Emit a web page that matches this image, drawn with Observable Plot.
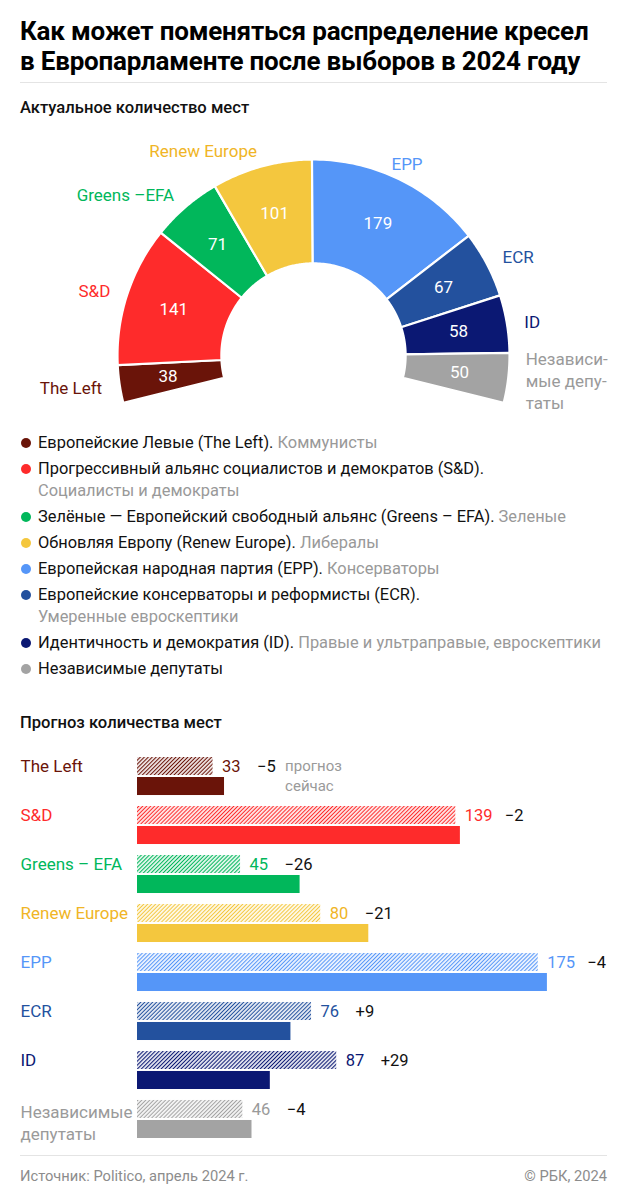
<!DOCTYPE html>
<html><head><meta charset="utf-8">
<script src="https://cdn.jsdelivr.net/npm/d3@7"></script>
<script src="https://cdn.jsdelivr.net/npm/@observablehq/plot@0.6"></script>
<style>
html,body{margin:0;padding:0;background:#fff;}
body{width:627px;height:1200px;position:relative;font-family:Roboto,"Noto Sans",sans-serif;color:#111;overflow:hidden;}
h1{position:absolute;left:20px;top:16px;margin:0;font-size:26px;line-height:30px;font-weight:700;letter-spacing:-0.2px;color:#000;}
.rule{position:absolute;left:20px;width:587px;height:1px;background:#e4e4e4;}
.sub{position:absolute;left:20px;font-size:16.6px;line-height:22px;font-weight:500;color:#111;}
#hemi{position:absolute;left:0;top:125px;}
#legend{position:absolute;left:20px;top:432px;width:605px;font-size:16.4px;line-height:22px;}
.item{position:relative;padding-left:18px;margin-bottom:4px;white-space:nowrap;}
.dot{position:absolute;left:1px;top:6px;width:10px;height:10px;border-radius:50%;}
.note{color:#999;}
#bars{position:absolute;left:0;top:745px;}
.foot{position:absolute;top:1165px;font-size:14.7px;line-height:22px;color:#8c8c8c;}
</style></head>
<body>
<h1>Как может поменяться распределение кресел<br>в Европарламенте после выборов в 2024 году</h1>
<div class="rule" style="top:82px"></div>
<div class="sub" style="top:97px">Актуальное количество мест</div>
<div id="hemi"></div>
<div id="legend"></div>
<div class="sub" style="top:712px">Прогноз количества мест</div>
<div id="bars"></div>
<div class="rule" style="top:1155px"></div>
<div class="foot" style="left:20px">Источник: Politico, апрель 2024 г.</div>
<div class="foot" style="right:20px">© РБК, 2024</div>
<script>
// ---- data ----
const keys = ["left","sd","greens","renew","epp","ecr","id","ind"];
const hemiLabels = ["The Left","S&D","Greens –EFA","Renew Europe","EPP","ECR","ID","Независи-\nмые депу-\nтаты"];
const barLabels = ["The Left","S&D","Greens – EFA","Renew Europe","EPP","ECR","ID","Независимые\nдепутаты"];
const currentSeats = [38,141,71,101,179,67,58,50];
const forecastSeats = [33,139,45,80,175,76,87,46];
const changeLabels = ["−5","−2","−26","−21","−4","+9","+29","−4"];
const colors = ["#6a1409","#fe2b2b","#01b75b","#f4c73e","#5596f8","#23519e","#0b1873","#a3a3a3"];
const labelColors = ["#6a1409","#fe2b2b","#01b75b","#f0b526","#5596f8","#23519e","#0b1873","#9a9a9a"];
const legendNames = [
  "Европейские Левые (The Left).",
  "Прогрессивный альянс социалистов и демократов (S&D).",
  "Зелёные — Европейский свободный альянс (Greens – EFA).",
  "Обновляя Европу (Renew Europe).",
  "Европейская народная партия (EPP).",
  "Европейские консерваторы и реформисты (ECR).",
  "Идентичность и демократия (ID).",
  "Независимые депутаты"
];
const legendNotes = ["Коммунисты","Социалисты и демократы","Зеленые","Либералы","Консерваторы","Умеренные евроскептики","Правые и ультраправые, евроскептики",""];
const legendBreak = [false,true,false,false,false,true,false,false];

// ---- hatch patterns ----
const defs = d3.select("body").append("svg").attr("width",0).attr("height",0)
  .style("position","absolute").append("defs");
keys.forEach((k,i)=>{
  const p = defs.append("pattern").attr("id","hatch-"+k).attr("patternUnits","userSpaceOnUse")
    .attr("width",2.8).attr("height",2.8).attr("patternTransform","rotate(45)");
  p.append("rect").attr("width",2.8).attr("height",2.8).attr("fill","#fff");
  p.append("line").attr("x1",1.4).attr("y1",0).attr("x2",1.4).attr("y2",2.8)
    .attr("stroke",colors[i]).attr("stroke-width",1.2);
});

// ---- hemicycle ----
const total = d3.sum(currentSeats);
const startA = -104, endA = 104, rIn = 0.47, rOut = 1, unit = 196;
const ang = d3.scaleLinear().domain([0,total]).range([startA,endA]);
const rad = a => a*Math.PI/180;
let cum = 0;
const segs = keys.map((k,i)=>{
  const s = ang(cum), e = ang(cum+currentSeats[i]);
  cum += currentSeats[i];
  const pts = [];
  const n = 48;
  for (let j=0;j<=n;j++){const t=rad(s+(e-s)*j/n); pts.push({x:rOut*Math.sin(t), y:rOut*Math.cos(t)});}
  for (let j=n;j>=0;j--){const t=rad(s+(e-s)*j/n); pts.push({x:rIn*Math.sin(t), y:rIn*Math.cos(t)});}
  pts.push(pts[0]);
  const m = (s+e)/2, rm = 0.75, rl = 1.09;
  return {k, i, pts, mid:m,
    vx: rm*Math.sin(rad(m)), vy: rm*Math.cos(rad(m)),
    lx: rl*Math.sin(rad(m)), ly: rl*Math.cos(rad(m)),
    value: currentSeats[i], label: hemiLabels[i], color: colors[i], lcolor: labelColors[i],
    anchor: m < -10 ? "end" : (m > 30 ? "start" : "middle")};
});
const W = 627, H = 300, cx = 313, cy = 230;
const hemi = Plot.plot({
  width: W, height: H, margin: 0,
  x: {domain: [-cx/unit, (W-cx)/unit], axis: null},
  y: {domain: [-(H-cy)/unit, cy/unit], axis: null},
  color: {type: "identity"},
  style: {fontFamily: "Roboto, 'Noto Sans', sans-serif", overflow: "visible"},
  marks: [
    ...segs.map(s => Plot.line(s.pts, {x:"x", y:"y", fill: s.color, stroke:"#fff", strokeWidth:2.2, curve:"linear"})),
    Plot.text(segs, {x:"vx", y:"vy", text: d=>String(d.value), fill:"#fff", fontSize:17}),
    ...["start","middle","end"].map(a => Plot.text(segs.filter(s=>s.anchor===a), {x:"lx", y:"ly", text:"label", fill:"lcolor", fontSize:17, textAnchor:a, lineHeight:1.3}))
  ]
});
document.getElementById("hemi").appendChild(hemi);

// ---- legend ----
const lg = d3.select("#legend");
keys.forEach((k,i)=>{
  const it = lg.append("div").attr("class","item");
  it.append("span").attr("class","dot").style("background",colors[i]);
  it.append("span").text(legendNames[i]);
  if (legendNotes[i]) {
    if (legendBreak[i]) it.append("br"); else it.append("span").text(" ");
    it.append("span").attr("class","note").text(legendNotes[i]);
  }
});

// ---- bars ----
const rows = keys.map((k,i)=>({key:k, label:barLabels[i], current:currentSeats[i], forecast:forecastSeats[i],
  change:changeLabels[i], color:colors[i], lcolor:labelColors[i]}));
const bars = Plot.plot({
  width: 627, height: 400, marginLeft: 137, marginRight: 32, marginTop: 12, marginBottom: 7,
  x: {domain: [0, 200], axis: null},
  y: {domain: keys, range: [12, 393], paddingInner: 0.224, paddingOuter: 0, round: false, axis: null},
  color: {type: "identity"},
  style: {fontFamily: "Roboto, 'Noto Sans', sans-serif", fontSize: "16px", overflow: "visible"},
  marks: [
    Plot.barX(rows, {x:"forecast", y:"key", fill: d=>`url(#hatch-${d.key})`, insetBottom: 20}),
    Plot.barX(rows, {x:"current", y:"key", fill:"color", insetTop: 20}),
    Plot.text(rows, {x:"forecast", y:"key", text: d=>String(d.forecast), fill:"lcolor", textAnchor:"start", dx:9, dy:-10, fontSize:16.5}),
    Plot.text(rows.filter(d=>d.forecast<100), {x:"forecast", y:"key", text:"change", fill:"#111", textAnchor:"start", dx:44, dy:-10, fontSize:16.5}),
    Plot.text(rows.filter(d=>d.forecast>=100), {x:"forecast", y:"key", text:"change", fill:"#111", textAnchor:"start", dx:49, dy:-10, fontSize:16.5}),
    Plot.text(rows.slice(0,1), {x:"forecast", y:"key", text: ()=>"прогноз", fill:"#9a9a9a", textAnchor:"start", dx:72, dy:-10, fontSize:15}),
    Plot.text(rows.slice(0,1), {x:"forecast", y:"key", text: ()=>"сейчас", fill:"#9a9a9a", textAnchor:"start", dx:72, dy:10, fontSize:15}),
    Plot.text(rows.filter(d=>!d.label.includes("\n")), {y:"key", frameAnchor:"left", dx:-117, dy:-10, text:"label", fill:"lcolor", textAnchor:"start", fontSize:17}),
    Plot.text(rows.filter(d=>d.label.includes("\n")), {y:"key", frameAnchor:"left", dx:-117, dy:2, text:"label", fill:"lcolor", textAnchor:"start", fontSize:17, lineHeight:1.3})
  ]
});
document.getElementById("bars").appendChild(bars);
</script>
</body></html>
